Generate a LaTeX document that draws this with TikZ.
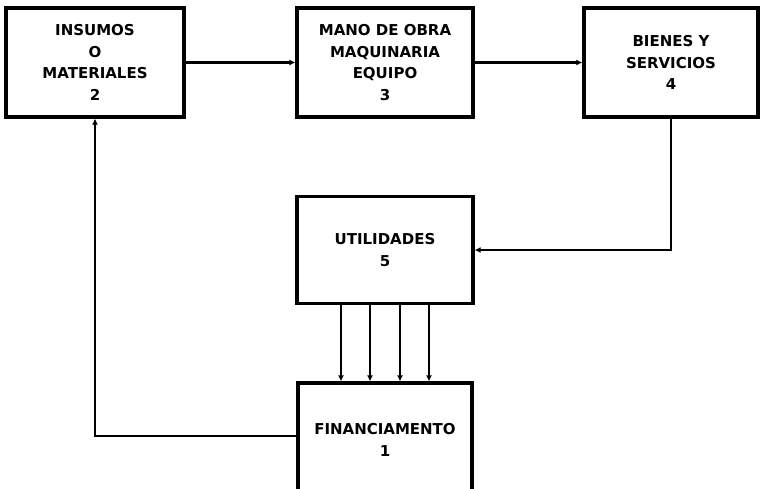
\documentclass[tikz,border=0pt]{standalone}
\usepackage{fontspec}
\setmainfont{DejaVu Sans}
\usetikzlibrary{arrows.meta}
\begin{document}
\begin{tikzpicture}[x=1pt,y=-1pt,
  blk/.style={draw,line width=3.2pt,inner sep=0pt,align=center,
    font=\fontsize{15}{21.5}\selectfont\bfseries},
  con/.style={line width=2.4pt,-{Latex[length=6pt,width=6pt]}}]
\useasboundingbox (0,0) rectangle (760,488);
\clip (0,0) rectangle (760,488);
\node[blk,minimum width=178pt,minimum height=109pt] (b2) at (95,62.5) {INSUMOS\\O\\MATERIALES\\2};
\node[blk,minimum width=176pt,minimum height=109pt] (b3) at (385,62.5) {MANO DE OBRA\\MAQUINARIA\\EQUIPO\\3};
\node[blk,minimum width=174pt,minimum height=109pt] (b4) at (671,62.5) {BIENES Y\\SERVICIOS\\4};
\node[blk,minimum width=176pt,minimum height=107pt] (b5) at (385,250) {UTILIDADES\\5};
\node[blk,minimum width=174pt,minimum height=114pt] (b1) at (385,440) {FINANCIAMENTO\\1};
\draw[con] (b2.east) -- (b3.west);
\draw[con] (b3.east) -- (b4.west);
\draw[con] (b4.south) |- (b5.east);
\draw[con] ([yshift=4pt]b1.west) -| (b2.south);
\foreach \d in {-44,-15,15,44}
  \draw[con] ([xshift=\d pt]b5.south) -- ([xshift=\d pt]b1.north);
\end{tikzpicture}
\end{document}
